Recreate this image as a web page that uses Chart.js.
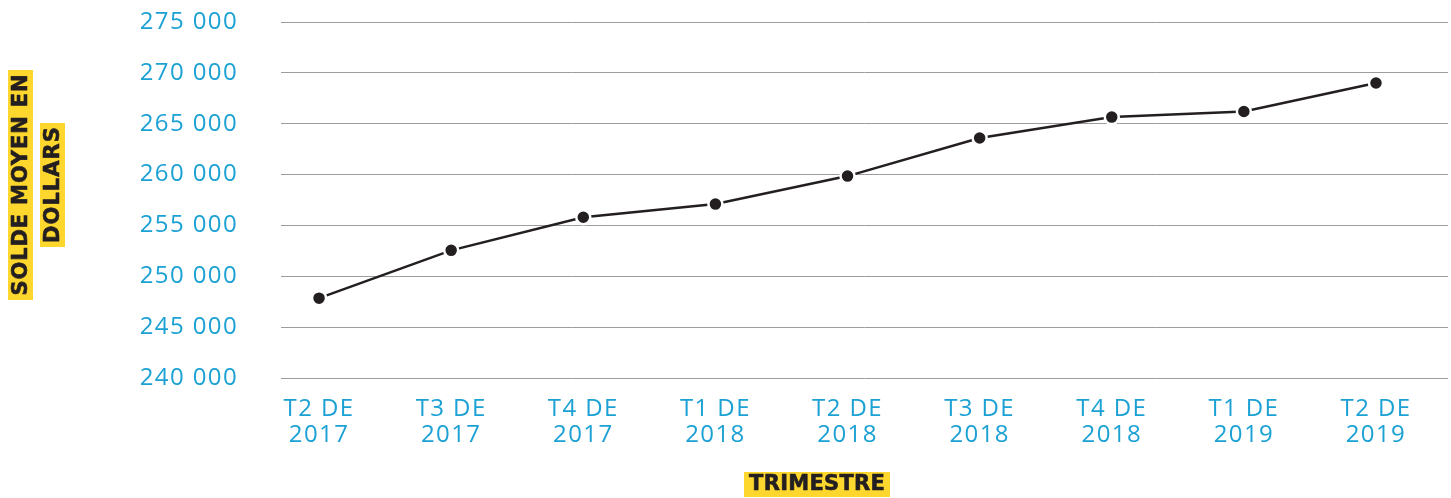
<!DOCTYPE html>
<html>
<head>
<meta charset="utf-8">
<script src="https://cdn.jsdelivr.net/npm/chart.js@4"></script>
<style>
html,body{margin:0;padding:0;background:#fff;}
#wrap{position:relative;width:1451px;height:498px;}
</style>
</head>
<body>
<div id="wrap"><canvas id="c" width="1451" height="498"></canvas></div>
<script>
const quarters = ['T2 DE|2017','T3 DE|2017','T4 DE|2017','T1 DE|2018','T2 DE|2018','T3 DE|2018','T4 DE|2018','T1 DE|2019','T2 DE|2019'];
const balances = [247850, 252550, 255800, 257100, 259850, 263600, 265650, 266200, 269000];
const yTicks = [240000, 245000, 250000, 255000, 260000, 265000, 270000, 275000];
const yTitleLines = ['SOLDE MOYEN EN', 'DOLLARS'];
const xTitle = 'TRIMESTRE';

const TICK_COLOR = '#1ba1d3';
const TITLE_COLOR = '#231f20';
const YELLOW = '#fdd62e';
const TITLE_FONT = 'bold 21px "DejaVu Sans"';

function drawFitted(ctx, text, cx, cy, targetW) {
  ctx.letterSpacing = '0px';
  const w0 = ctx.measureText(text).width;
  const ls = (targetW - w0) / text.length;
  ctx.letterSpacing = ls.toFixed(2) + 'px';
  ctx.strokeStyle = TITLE_COLOR;
  ctx.lineWidth = 0.6;
  ctx.lineJoin = 'round';
  ctx.strokeText(text, cx + ls / 2, cy);
  ctx.fillText(text, cx + ls / 2, cy);
  ctx.letterSpacing = '0px';
}

const spacingPlugin = {
  id: 'spacing',
  beforeDraw(chart) { chart.ctx.letterSpacing = '1.4px'; },
  afterDatasetsDraw(chart) { chart.ctx.letterSpacing = '0px'; }
};

const titlePlugin = {
  id: 'titles',
  afterDraw(chart) {
    const ctx = chart.ctx;
    ctx.save();
    ctx.font = TITLE_FONT;
    ctx.textAlign = 'center';
    ctx.textBaseline = 'middle';
    const boxes = [
      {cx: 20.5, cy: 185, len: 230, tw: 222},
      {cx: 52.5, cy: 185, len: 124, tw: 117}
    ];
    yTitleLines.forEach((t, i) => {
      const b = boxes[i];
      ctx.save();
      ctx.translate(b.cx, b.cy);
      ctx.rotate(-Math.PI / 2);
      ctx.fillStyle = YELLOW;
      ctx.fillRect(-b.len / 2, -12.5, b.len, 25);
      ctx.fillStyle = TITLE_COLOR;
      drawFitted(ctx, t, 0, 1, b.tw);
      ctx.restore();
    });
    ctx.fillStyle = YELLOW;
    ctx.fillRect(744, 472, 146, 25);
    ctx.fillStyle = TITLE_COLOR;
    drawFitted(ctx, xTitle, 817, 485, 136);
    ctx.restore();
  }
};

new Chart(document.getElementById('c'), {
  type: 'line',
  data: {
    datasets: [{
      data: balances.map((v, i) => ({x: i, y: v})),
      borderColor: '#231f20',
      borderWidth: 2.5,
      tension: 0,
      pointRadius: 7,
      pointBackgroundColor: '#231f20',
      pointBorderColor: '#ffffff',
      pointBorderWidth: 2.5,
      clip: false
    }]
  },
  options: {
    responsive: false,
    animation: false,
    layout: {autoPadding: false, padding: {left: 0, right: 3, top: 22, bottom: 0}},
    plugins: {legend: {display: false}, tooltip: {enabled: false}},
    scales: {
      x: {
        type: 'linear',
        min: -0.288,
        max: 8.545,
        afterBuildTicks(scale) { scale.ticks = quarters.map((q, i) => ({value: i})); },
        afterFit(scale) { scale.height = 120; scale.paddingLeft = 0; scale.paddingRight = 0; },
        grid: {display: false},
        border: {display: false},
        ticks: {
          color: TICK_COLOR,
          font: {family: 'Open Sans', size: 24, weight: '500', lineHeight: 1.1},
          padding: 10,
          maxRotation: 0,
          autoSkip: false,
          callback: (v) => quarters[v] ? quarters[v].split('|') : ''
        }
      },
      y: {
        min: 240000,
        max: 275000,
        afterBuildTicks(scale) { scale.ticks = yTicks.map(v => ({value: v})); },
        afterFit(scale) { scale.width = 281; scale.paddingTop = 0; scale.paddingBottom = 0; },
        grid: {color: '#9d9d9d', lineWidth: 1, drawTicks: true, tickLength: 43, tickColor: 'rgba(0,0,0,0)'},
        border: {display: false},
        ticks: {
          color: TICK_COLOR,
          font: {family: 'Open Sans', size: 24, weight: '500'},
          padding: 0,
          callback: (v) => v.toLocaleString('fr-FR').replace(/[\u202f\u00a0]/g, ' ')
        }
      }
    }
  },
  plugins: [spacingPlugin, titlePlugin]
});
</script>
</body>
</html>
